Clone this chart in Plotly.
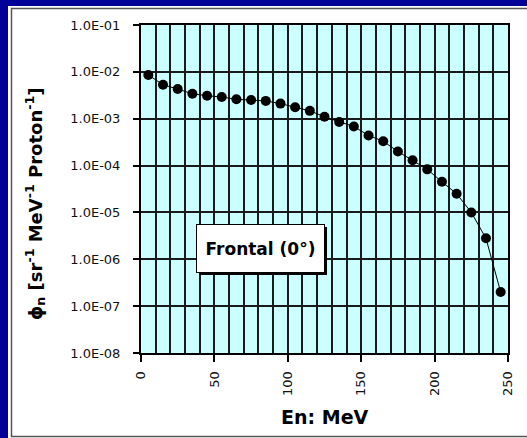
import plotly.graph_objects as go

# ---- data ----
energy_mev = [5, 15, 25, 35, 45, 55, 65, 75, 85, 95, 105, 115, 125,
              135, 145, 155, 165, 175, 185, 195, 205, 215, 225, 235, 245]
flux = [8.6e-3, 5.3e-3, 4.3e-3, 3.4e-3, 3.1e-3, 2.9e-3, 2.6e-3, 2.5e-3,
        2.4e-3, 2.1e-3, 1.76e-3, 1.47e-3, 1.1e-3, 8.5e-4, 6.8e-4, 4.4e-4,
        3.3e-4, 2.0e-4, 1.3e-4, 8.3e-5, 4.5e-5, 2.5e-5, 1.0e-5, 2.8e-6, 2.0e-7]
y_tick_vals = [1e-8, 1e-7, 1e-6, 1e-5, 1e-4, 1e-3, 1e-2, 1e-1]
y_tick_text = ["1.0E-08", "1.0E-07", "1.0E-06", "1.0E-05",
               "1.0E-04", "1.0E-03", "1.0E-02", "1.0E-01"]
x_tick_vals = [0, 50, 100, 150, 200, 250]
x_tick_text = ["0", "50", "100", "150", "200", "250"]
label_text = "Frontal (0°)"
x_title = "En: MeV"
y_title = "ϕ<sub>n</sub> [sr<sup>-1</sup> MeV<sup>-1</sup> Proton<sup>-1</sup>]"

W, H = 527, 438
L, R, T, B = 141, 508, 25, 353


def px(x):
    return (x - L) / (R - L)


def py(y):
    return (B - y) / (B - T)


fig = go.Figure()
fig.add_trace(go.Scatter(
    x=energy_mev, y=flux, mode="lines+markers",
    line=dict(color="black", width=1),
    marker=dict(color="black", size=10),
    showlegend=False,
))

tickfont = dict(family="DejaVu Sans", size=13, color="#111")
blue = "#000099"
grid = "#1a1a1a"

fig.update_layout(
    width=W, height=H,
    margin=dict(l=L, r=W - R, t=T, b=H - B, pad=0),
    paper_bgcolor="white",
    plot_bgcolor="#CCFFFF",
    xaxis=dict(
        range=[0, 250], tickmode="array", tickvals=x_tick_vals, ticktext=x_tick_text,
        tickangle=-90, ticks="outside", ticklen=7, tickcolor="black", tickwidth=1.5,
        showgrid=True, gridcolor=grid, gridwidth=1.5,
        minor=dict(dtick=10, showgrid=True, gridcolor=grid, gridwidth=1.5, ticks=""),
        showline=True, linecolor="black", linewidth=2, mirror=True,
        zeroline=False, tickfont=tickfont, ticklabelstandoff=4,
    ),
    yaxis=dict(
        type="log", range=[-8, -1], tickmode="array",
        tickvals=y_tick_vals, ticktext=y_tick_text,
        ticks="outside", ticklen=6, tickcolor="black", tickwidth=1.5,
        showgrid=True, gridcolor=grid, gridwidth=1.5,
        showline=True, linecolor="black", linewidth=2, mirror=True,
        zeroline=False, tickfont=tickfont, ticklabelstandoff=10,
    ),
    shapes=[
        # blue frame strips (top and left)
        dict(type="rect", xref="paper", yref="paper",
             x0=px(-5), x1=px(W + 5), y0=py(6), y1=py(-5),
             fillcolor=blue, line=dict(width=0), layer="below"),
        dict(type="rect", xref="paper", yref="paper",
             x0=px(-5), x1=px(8), y0=py(H + 5), y1=py(-5),
             fillcolor=blue, line=dict(width=0), layer="below"),
        # grey border of chart panel
        dict(type="rect", xref="paper", yref="paper",
             x0=px(11.5), x1=px(W + 5), y0=py(8.5), y1=py(436.5),
             fillcolor="rgba(0,0,0,0)", line=dict(color="#555555", width=1.5),
             layer="below"),
        # label box shadow
        dict(type="rect", xref="paper", yref="paper",
             x0=px(199), x1=px(327), y0=py(227), y1=py(275),
             fillcolor="black", line=dict(width=0), layer="above"),
    ],
    annotations=[
        dict(text="<b>" + label_text + "</b>", xref="paper", yref="paper",
             x=px(260), y=py(248), xanchor="center", yanchor="middle",
             showarrow=False, bgcolor="white", bordercolor="black", borderwidth=1,
             borderpad=2, width=123, height=43,
             font=dict(family="DejaVu Sans", size=17, color="black")),
        dict(text="<b>" + x_title + "</b>", xref="paper", yref="paper",
             x=px(325), y=py(417), xanchor="center", yanchor="middle",
             showarrow=False, font=dict(family="DejaVu Sans", size=19, color="black")),
        dict(text="<b>" + y_title + "</b>", xref="paper", yref="paper",
             x=px(35), y=py(204), xanchor="center", yanchor="middle", textangle=-90,
             showarrow=False, font=dict(family="DejaVu Sans", size=18, color="black")),
    ],
)

fig.write_html("out.html", config={"displayModeBar": False},
               post_script="document.body.style.margin='0';document.body.style.padding='0';")
